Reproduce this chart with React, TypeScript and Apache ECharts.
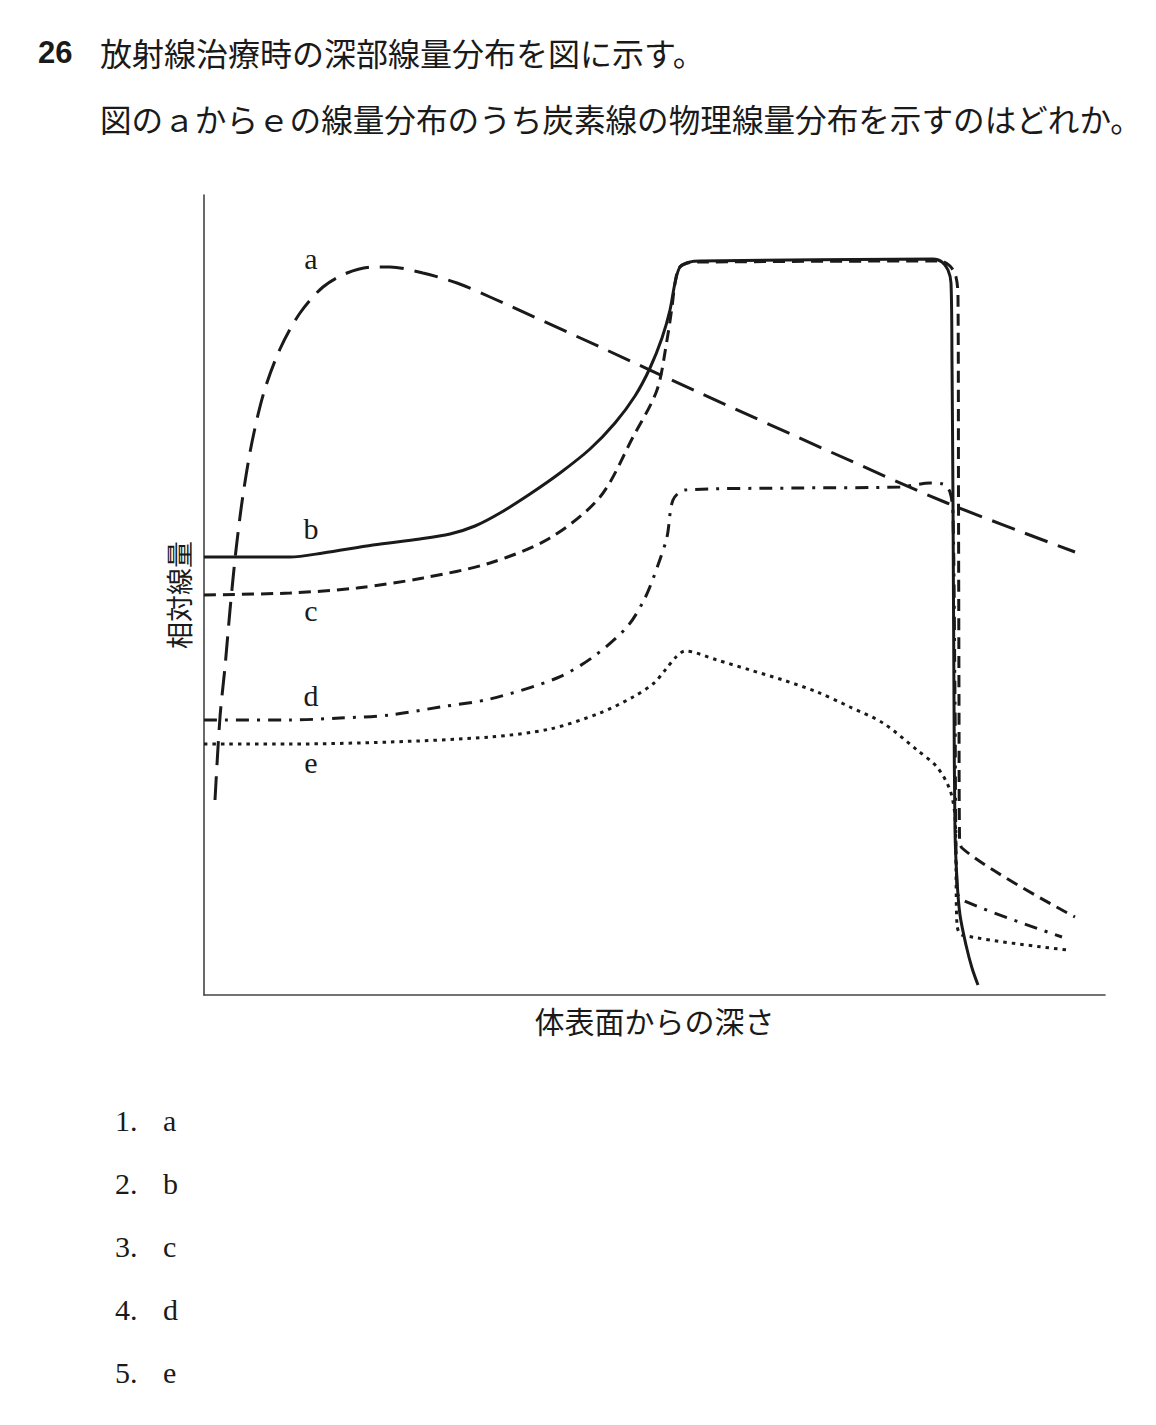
import { useRef, useEffect } from 'react';
import * as echarts from 'echarts';

// depth (x) and relative dose (y), arbitrary units
const curveA: [number, number][] = [
  [1.1, 19.5], [1.6, 27.8], [2.1, 32.8], [2.6, 38.5], [3.2, 44.5], [3.9, 50.0],
  [4.8, 55.3], [6.0, 60.3], [7.6, 64.6], [9.6, 68.2], [11.9, 70.8], [14.3, 72.2],
  [16.9, 72.8], [18.6, 72.8], [21.9, 72.2], [25.3, 71.2], [28.6, 69.8], [39.6, 64.8],
  [49.6, 60.2], [62.9, 54.2], [74.3, 49.2], [87.1, 44.3],
];
const curveB: [number, number][] = [
  [0, 43.8], [8.6, 43.8], [11.9, 44.2], [16.9, 45.0], [21.6, 45.6], [24.6, 46.1],
  [27.1, 46.9], [29.6, 48.2], [32.6, 50.1], [35.6, 52.2], [38.6, 54.6], [41.1, 57.2],
  [43.1, 59.9], [44.6, 62.7], [45.8, 65.7], [46.6, 68.5], [47.1, 71.2], [47.6, 72.8],
  [48.6, 73.3], [49.6, 73.4], [72.9, 73.6], [73.8, 73.3], [74.4, 72.5], [74.7, 71.2],
  [74.8, 63.2], [74.9, 49.2], [75.0, 29.5], [75.1, 16.5], [75.3, 11.5], [75.6, 8.0],
  [76.2, 5.0], [76.8, 2.7], [77.4, 1.0],
];
const curveC: [number, number][] = [
  [0, 40.0], [8.6, 40.2], [15.3, 40.7], [21.9, 41.7], [28.6, 43.2], [34.6, 45.7],
  [39.6, 49.8], [42.9, 55.8], [45.3, 60.5], [46.3, 65.5], [46.8, 68.8], [47.1, 71.2],
  [47.5, 72.7], [48.3, 73.2], [49.6, 73.3], [73.6, 73.4], [74.6, 72.9], [75.2, 71.8],
  [75.4, 69.8], [75.45, 49.5], [75.5, 29.5], [75.55, 16.0], [75.8, 14.7], [87.1, 7.8],
];
const curveD: [number, number][] = [
  [0, 27.5], [8.6, 27.5], [13.6, 27.7], [18.6, 28.0], [23.6, 28.8], [28.6, 29.6],
  [35.3, 31.7], [38.9, 33.8], [42.3, 36.8], [44.1, 39.7], [45.4, 43.0], [46.3, 45.8],
  [46.9, 49.5], [48.1, 50.5], [59.6, 50.7], [69.6, 50.8], [72.6, 51.2], [73.9, 51.1],
  [74.6, 50.3], [74.9, 48.0], [75.1, 29.5], [75.3, 10.5], [75.8, 9.5], [85.8, 5.8],
];
const curveE: [number, number][] = [
  [0, 25.1], [8.6, 25.1], [18.6, 25.3], [28.6, 25.8], [34.6, 26.6], [39.6, 28.2],
  [42.9, 29.8], [45.0, 31.2], [46.2, 32.6], [47.2, 33.8], [48.1, 34.4], [51.3, 33.5],
  [54.6, 32.5], [57.9, 31.5], [61.3, 30.3], [64.6, 28.8], [67.9, 27.2], [71.3, 24.5],
  [73.3, 22.8], [74.6, 20.5], [75.1, 17.8], [75.2, 12.5], [75.3, 7.0], [75.8, 6.0],
  [86.4, 4.5],
];

const curveNames = ['a', 'b', 'c', 'd', 'e'];
const choices = ['a', 'b', 'c', 'd', 'e'];

const questionNo = '26';
const questionLine1 = '放射線治療時の深部線量分布を図に示す。';
const questionLine2 = '図のａからｅの線量分布のうち炭素線の物理線量分布を示すのはどれか。';
const xName = '体表面からの深さ';
const yName = '相対線量';

const INK = '#1a1a1a';
const SERIF = '"Liberation Serif", "Noto Sans CJK JP", serif';
const JP = '"Noto Sans CJK JP", sans-serif';

export default function App() {
  const chartRef = useRef<HTMLDivElement>(null);
  useEffect(() => {
    let chart: echarts.ECharts | undefined;
    if (chartRef.current) {
      chart = echarts.init(chartRef.current, undefined, { renderer: 'svg' });

      const line = (
        name: string,
        data: [number, number][],
        type: 'solid' | number[],
      ) => ({
        name,
        type: 'line',
        data,
        smooth: 0.3,
        symbol: 'none',
        silent: true,
        lineStyle: { color: INK, width: 3, type },
      });

      const labelY = [273, 543, 625, 710, 777];
      const choiceY = [1135, 1198, 1261, 1324, 1387];

      chart.setOption({
        animation: false,
        backgroundColor: '#fff',
        grid: { left: 204, top: 195, width: 901, height: 800 },
        xAxis: {
          type: 'value',
          min: 0,
          max: 90.1,
          name: xName,
          nameLocation: 'middle',
          nameGap: 10,
          nameTextStyle: { fontFamily: JP, fontSize: 30, color: INK },
          axisLine: { show: true, onZero: false, lineStyle: { color: '#444', width: 1.6 } },
          axisTick: { show: false },
          axisLabel: { show: false },
          splitLine: { show: false },
        },
        yAxis: {
          type: 'value',
          min: 0,
          max: 80,
          name: yName,
          nameLocation: 'middle',
          nameRotate: 90,
          nameGap: 12,
          nameTextStyle: { fontFamily: JP, fontSize: 27, color: INK },
          axisLine: { show: true, onZero: false, lineStyle: { color: '#444', width: 1.6 } },
          axisTick: { show: false },
          axisLabel: { show: false },
          splitLine: { show: false },
        },
        series: [
          line('a', curveA, [24, 11]),
          line('b', curveB, 'solid'),
          line('c', curveC, [12, 7]),
          line('d', curveD, [13, 8, 3, 8]),
          line('e', curveE, [3.5, 5]),
        ],
        graphic: [
          {
            type: 'text',
            x: 38,
            y: 52,
            style: {
              text: questionNo,
              fill: INK,
              font: 'bold 31px "Liberation Sans Narrow", "Liberation Sans", sans-serif',
              textAlign: 'left',
              align: 'left',
              textVerticalAlign: 'middle',
              verticalAlign: 'middle',
            },
          },
          {
            type: 'text',
            x: 100,
            y: 52,
            style: {
              text: questionLine1,
              fill: INK,
              font: `32px ${JP}`,
              textVerticalAlign: 'middle',
              verticalAlign: 'middle',
            },
          },
          {
            type: 'text',
            x: 100,
            y: 118,
            style: {
              text: questionLine2,
              fill: INK,
              font: `31.6px ${JP}`,
              textVerticalAlign: 'middle',
              verticalAlign: 'middle',
            },
          },
          ...curveNames.map((n, i) => ({
            type: 'text',
            x: 311,
            y: labelY[i],
            style: {
              text: n,
              fill: INK,
              font: `30px ${SERIF}`,
              textAlign: 'center',
              align: 'center',
              textVerticalAlign: 'bottom',
              verticalAlign: 'bottom',
            },
          })),
          ...choices.map((c, i) => ({
            type: 'group',
            children: [
              {
                type: 'text',
                x: 115,
                y: choiceY[i],
                style: {
                  text: `${i + 1}.`,
                  fill: INK,
                  font: `30px ${SERIF}`,
                  textVerticalAlign: 'bottom',
                  verticalAlign: 'bottom',
                },
              },
              {
                type: 'text',
                x: 163,
                y: choiceY[i],
                style: {
                  text: c,
                  fill: INK,
                  font: `30px ${SERIF}`,
                  textVerticalAlign: 'bottom',
                  verticalAlign: 'bottom',
                },
              },
            ],
          })),
        ],
      });
    }
    return () => {
      chart?.dispose();
    };
  }, []);

  return (
    <div
      ref={chartRef}
      style={{ position: 'absolute', left: 0, top: 0, width: 1156, height: 1425 }}
    />
  );
}
